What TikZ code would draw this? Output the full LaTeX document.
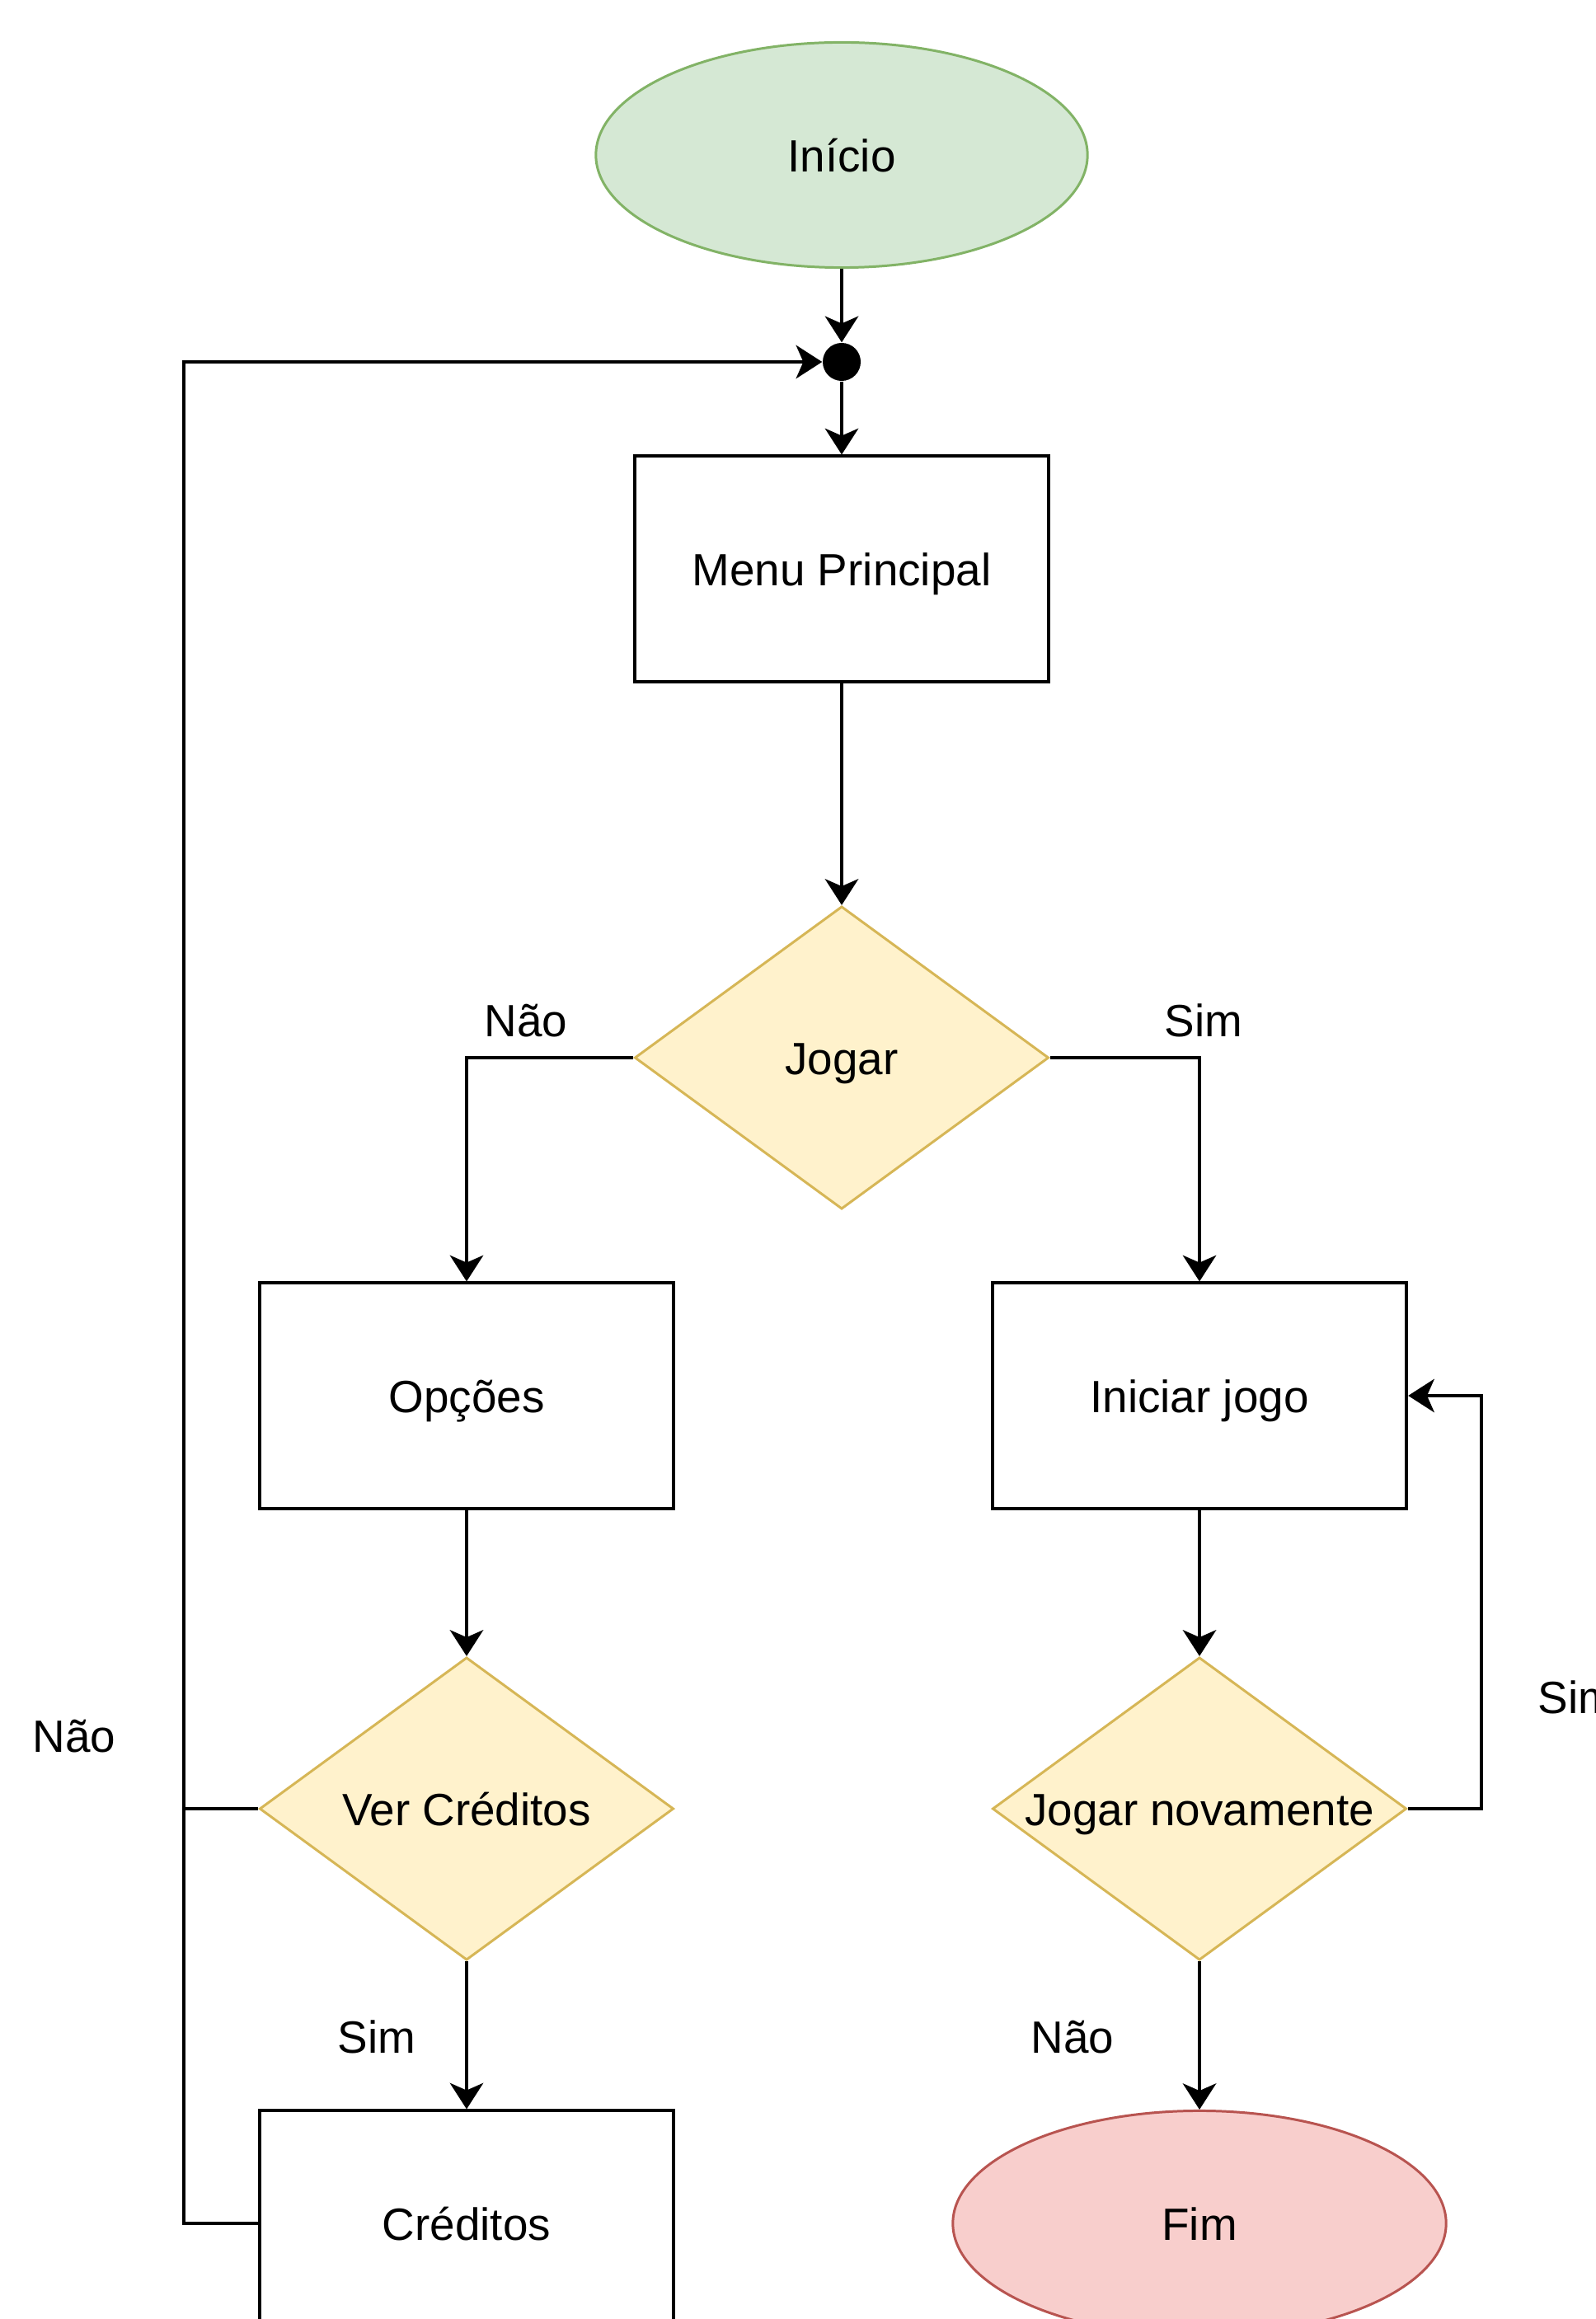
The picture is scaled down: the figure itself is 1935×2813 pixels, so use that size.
\documentclass[tikz,border=0pt]{standalone}
\usepackage{fontspec}
\setmainfont{Liberation Sans}
\usetikzlibrary{shapes.geometric,arrows.meta}
\definecolor{gfill}{HTML}{D5E8D4}
\definecolor{gdraw}{HTML}{82B366}
\definecolor{yfill}{HTML}{FFF2CC}
\definecolor{ydraw}{HTML}{D6B656}
\definecolor{rfill}{HTML}{F8CECC}
\definecolor{rdraw}{HTML}{B85450}
\newcommand\dfont{\fontsize{15.6pt}{18pt}\selectfont}
\tikzset{
  base/.style={font=\dfont, inner sep=0pt, text height=11.8pt, text depth=0pt},
  procbox/.style={base, rectangle, draw=black, line width=1.14pt, fill=white,
    minimum width=5.02cm, minimum height=2.73cm},
  decbox/.style={base, diamond, shape aspect=1.368, draw=ydraw, fill=yfill, line width=0.85pt,
    minimum width=5.02cm, minimum height=3.67cm},
  startbox/.style={base, ellipse, draw=gdraw, fill=gfill, line width=0.85pt,
    minimum width=5.96cm, minimum height=2.73cm},
  endbox/.style={base, ellipse, draw=rdraw, fill=rfill, line width=0.85pt,
    minimum width=5.98cm, minimum height=2.73cm},
  junc/.style={circle, fill=black, inner sep=0pt, minimum size=0.46cm},
  edge/.style={draw=black, line width=1.14pt, -{Stealth[length=9pt,width=11.5pt,inset=2.5pt]}},
  plain/.style={draw=black, line width=1.14pt},
  lbl/.style={font=\dfont, inner sep=0pt, anchor=base}
}
\begin{document}
\begin{tikzpicture}[x=0.01cm, y=-0.01cm]
\useasboundingbox (0,0) rectangle (1935,2813);
% nodes
\node[startbox] (inicio) at (1021,188) {Início};
\node[junc] (dot) at (1021,439) {};
\node[procbox] (menu) at (1021,690) {Menu Principal};
\node[decbox] (jogar) at (1021,1283) {Jogar};
\node[procbox] (opcoes) at (566,1693) {Opções};
\node[procbox] (iniciar) at (1455,1693) {Iniciar jogo};
\node[decbox] (vercred) at (566,2194) {Ver Créditos};
\node[decbox] (jogarnov) at (1455,2194) {Jogar novamente};
\node[procbox] (creditos) at (566,2697) {Créditos};
\node[endbox] (fim) at (1455,2697) {Fim};
% coordinates for loops
\coordinate (lx1) at (223,2194);
\coordinate (lx2) at (223,2697);
\coordinate (rx1) at (1797,2194);
% edges
\draw[edge] (inicio.south) -- (dot.north);
\draw[edge] (dot.south) -- (menu.north);
\draw[edge] (menu.south) -- (jogar.north);
\draw[edge] (jogar.west) -| (opcoes.north);
\draw[edge] (jogar.east) -| (iniciar.north);
\draw[edge] (opcoes.south) -- (vercred.north);
\draw[edge] (iniciar.south) -- (jogarnov.north);
\draw[edge] (vercred.south) -- (creditos.north);
\draw[edge] (jogarnov.south) -- (fim.north);
\draw[edge] (vercred.west) -- (lx1) |- (dot.west);
\draw[plain] (creditos.west) -- (lx2) -- (lx1);
\draw[edge] (jogarnov.east) -- (rx1) |- (iniciar.east);
% labels
\node[lbl] (l1) at (638,1257) {Não};
\node[lbl] (l2) at (1460,1257) {Sim};
\node[lbl] (l3) at (90,2125) {Não};
\node[lbl, anchor=base west] (l4) at (1865,2078) {Sim};
\node[lbl] (l5) at (457,2490) {Sim};
\node[lbl] (l6) at (1301,2490) {Não};
\end{tikzpicture}
\end{document}
